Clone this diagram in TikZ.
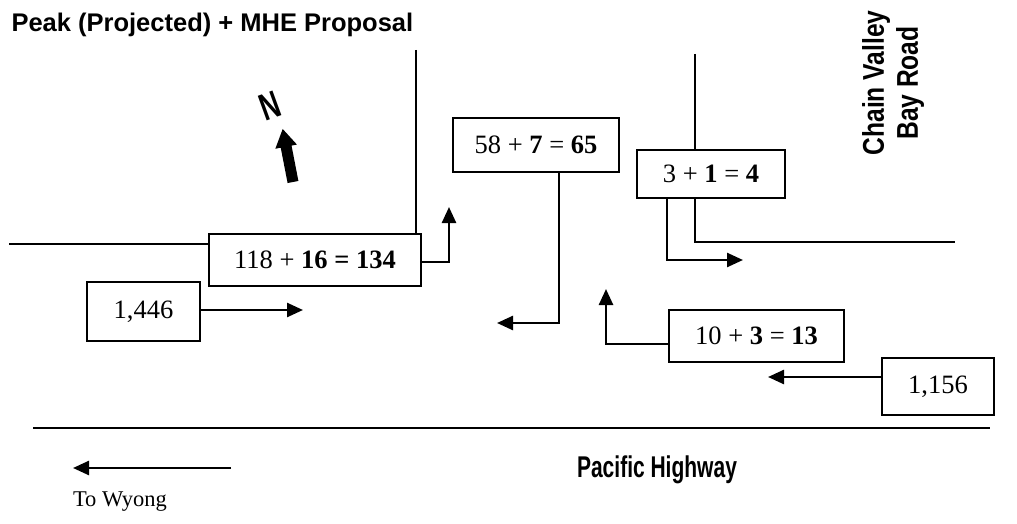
\documentclass[tikz,border=0pt]{standalone}
\usepackage{fontspec}
\usepackage{graphicx}
\setmainfont{Liberation Serif}
\newfontfamily\hel{Liberation Sans}
\usetikzlibrary{arrows.meta}
\tikzset{
  box/.style={draw, line width=1.2pt, inner sep=0pt, font=\fontsize{26.5}{30}\selectfont},
  road/.style={line width=1.3pt},
  flow/.style={line width=2.5pt, -{Triangle[length=16pt,width=14pt]}},
}
\begin{document}
\begin{tikzpicture}[x=1pt,y=-1pt]
\useasboundingbox (0,0) rectangle (1017,524);
% title
\node[anchor=west, font=\hel\bfseries\fontsize{25.5}{30}\selectfont] (title) at (8,25) {Peak (Projected) + MHE Proposal};
% boxes
\node[box, minimum width=212pt, minimum height=52pt] (A) at (315,260) {118 + \textbf{16 = 134}\hspace{6pt}};
\node[box, minimum width=113pt, minimum height=59pt] (B) at (143.5,311.5) {1,446\hspace{11pt}};
\node[box, minimum width=166pt, minimum height=54pt] (C) at (536,145) {58 + \textbf{7} = \textbf{65}};
\node[box, minimum width=148pt, minimum height=48pt] (D) at (711,174) {3 + \textbf{1} = \textbf{4}\hspace{10pt}};
\node[box, minimum width=175pt, minimum height=52pt] (E) at (756.5,336) {10 + \textbf{3} = \textbf{13}\hspace{8pt}};
\node[box, minimum width=112pt, minimum height=57pt] (F) at (938,386.5) {1,156\hspace{14pt}};
% coordinates
\coordinate (r1) at (416,50);
\coordinate (r2) at (9,244);
\coordinate (r3) at (695,54);
\coordinate (r4) at (955,242);
\coordinate (a1) at (449,262);
\coordinate (a2) at (449,207);
\coordinate (b1) at (303,310);
\coordinate (c1) at (559,323);
\coordinate (c2) at (497,323);
\coordinate (d0) at (667,260);
\coordinate (d1) at (743,260);
\coordinate (e0) at (606,344);
\coordinate (e1) at (606,289);
\coordinate (f1) at (768,377);
\coordinate (h1) at (33,428);
\coordinate (h2) at (990,428);
\coordinate (w1) at (231,468);
\coordinate (w2) at (73,468);
% roads
\draw[road] (r1) -- (r1 |- A.north);
\draw[road] (r2) -- (r2 -| A.west);
\draw[road] (r3) -- (r3 |- D.north);
\draw[road] (D.south -| r3) |- (r4);
\draw[line width=2pt] (h1) -- (h2);
% movements
\draw[flow] (A.east |- a1) -- (a1) -- (a2);
\draw[flow] (B.east |- b1) -- (b1);
\draw[flow] (C.south -| c1) -- (c1) -- (c2);
\draw[flow] (D.south -| d0) -- (d0) -- (d1);
\draw[flow] (E.west |- e0) -- (e0) -- (e1);
\draw[flow] (F.west |- f1) -- (f1);
\draw[flow] (w1) -- (w2);
% labels
\node[font=\fontsize{22.5}{26}\selectfont] (wy) at (120,502) {To Wyong};
\node (ph) at (657,470) {\scalebox{0.7}[1]{\hel\bfseries\fontsize{30}{34}\selectfont Pacific Highway}};
\node[rotate=90, align=center, font=\hel\bfseries\fontsize{30}{34}\selectfont] (cv) at (893,83) {\scalebox{0.82}[1]{Chain Valley}\\\scalebox{0.82}[1]{Bay Road}};
% north arrow
\fill[shift={(293,182)}, rotate=11] (-5.5,0) -- (-5.5,-36) -- (-11,-36) -- (0,-54) -- (11,-36) -- (5.5,-36) -- (5.5,0) -- cycle;
\node[rotate=20, font=\hel\bfseries\fontsize{38}{38}\selectfont] (N) at (270,106) {\scalebox{0.7}[1]{N}};
\end{tikzpicture}
\end{document}
